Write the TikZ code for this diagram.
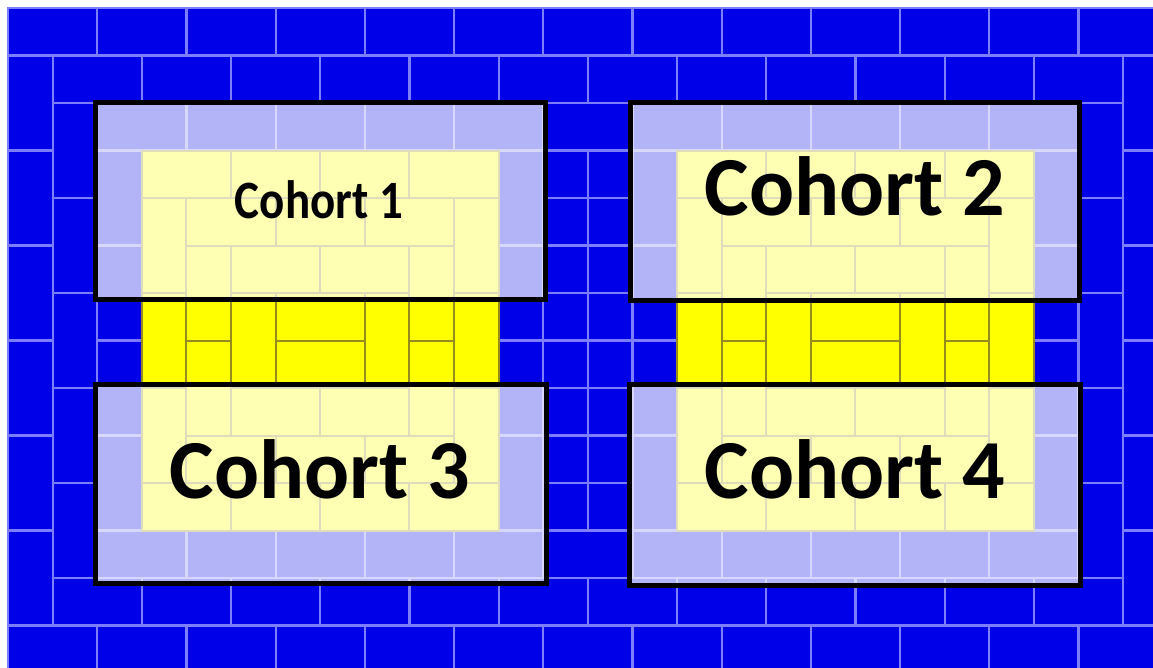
\documentclass[tikz,border=0pt]{standalone}
\usepackage{fontspec}
\setmainfont{Carlito}
\definecolor{brickblue}{RGB}{0,0,232}
\definecolor{jointblue}{RGB}{125,125,255}
\definecolor{brickyellow}{RGB}{255,255,0}
\definecolor{jointolive}{RGB}{150,140,30}
\tikzset{
  blueb/.style={fill=brickblue, draw=jointblue, line width=2.2pt},
  yellowb/.style={fill=brickyellow, draw=jointolive, line width=2pt},
  cohortbox/.style={draw=black, line width=5pt, fill=white, fill opacity=0.7, draw opacity=1},
  cohorttext/.style={text=black, anchor=base, inner sep=0pt}
}
% #1,#2 = first corner (grid), #3,#4 = second corner (grid), #5 = ring (0 = blue, else yellow)
\newcommand{\tilebrick}[5]{%
  \ifnum#5=0\relax
    \path[blueb] ({8+44.6*(#1)},{8+47.5*(#2)}) rectangle ({8+44.6*(#3)},{8+47.5*(#4)});%
  \else
    \path[yellowb] ({8+44.6*(#1)},{8+47.5*(#2)}) rectangle ({8+44.6*(#3)},{8+47.5*(#4)});%
  \fi}
\begin{document}
\begin{tikzpicture}[x=1pt,y=-1pt]
\fill[white] (0,0) rectangle (1153,667);
\useasboundingbox (0,0) rectangle (1153,667);
\clip (0,0) rectangle (1153,667);
% outer ring
\foreach \k in {0,2,...,24}{\tilebrick{\k}{0}{\k+2}{1}{0}\tilebrick{\k}{13}{\k+2}{14}{0}}
\foreach \m in {1,3,...,11}{\tilebrick{0}{\m}{1}{\m+2}{0}\tilebrick{25}{\m}{26}{\m+2}{0}}
% second ring
\foreach \k in {1,3,...,23}{\tilebrick{\k}{1}{\k+2}{2}{0}\tilebrick{\k}{12}{\k+2}{13}{0}}
\foreach \m in {2,4,...,10}{\tilebrick{1}{\m}{2}{\m+2}{0}\tilebrick{24}{\m}{25}{\m+2}{0}}
% middle strip
\tilebrick{12}{2}{14}{3}{0}
\tilebrick{12}{11}{14}{12}{0}
\foreach \m in {3,...,10}{\tilebrick{12}{\m}{13}{\m+1}{0}\tilebrick{13}{\m}{14}{\m+1}{0}}
% two 10x10 sections of concentric rings
\foreach \kz in {2,14}{
  \foreach \r in {0,...,4}{
    \pgfmathtruncatemacro{\nr}{4-\r}
    \foreach \i in {0,...,\nr}{
      \tilebrick{\kz+\r+2*\i}{2+\r}{\kz+\r+2*\i+2}{3+\r}{\r}
      \tilebrick{\kz+\r+2*\i}{11-\r}{\kz+\r+2*\i+2}{12-\r}{\r}
    }
    \ifnum\r<4
      \pgfmathtruncatemacro{\nc}{3-\r}
      \foreach \j in {0,...,\nc}{
        \tilebrick{\kz+\r}{3+\r+2*\j}{\kz+\r+1}{5+\r+2*\j}{\r}
        \tilebrick{\kz+9-\r}{3+\r+2*\j}{\kz+10-\r}{5+\r+2*\j}{\r}
      }
    \fi
  }
}
% cohort boxes
\draw[cohortbox] (95.5,102.5) rectangle (545,299.5);
\draw[cohortbox] (630.5,102.5) rectangle (1079.5,300);
\draw[cohortbox] (95,384.5) rectangle (546,583.5);
\draw[cohortbox] (629.5,384.5) rectangle (1080.5,585.5);
% labels
\node[cohorttext] (t1) at (319,218) {\scalebox{0.87}[1]{\fontsize{54}{60}\selectfont\bfseries Cohort 1}};
\node[cohorttext] (t2) at (855,215) {\fontsize{84}{90}\selectfont\bfseries Cohort 2};
\node[cohorttext] (t3) at (320,498) {\fontsize{84}{90}\selectfont\bfseries Cohort 3};
\node[cohorttext] (t4) at (855,498) {\fontsize{84}{90}\selectfont\bfseries Cohort 4};
\end{tikzpicture}
\end{document}
